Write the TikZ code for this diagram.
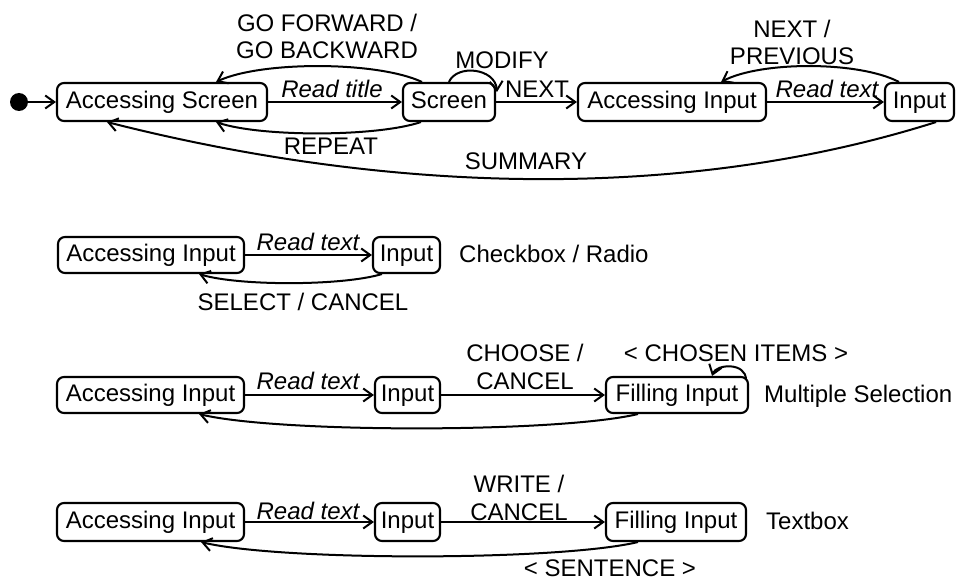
\documentclass[tikz,border=0pt]{standalone}
\usepackage{fontspec}
\setmainfont{Liberation Sans}
\usetikzlibrary{arrows.meta,calc}

\begin{document}
\begin{tikzpicture}[x=1pt,y=-1pt,
  every node/.style={font=\fontsize{24}{27.5}\selectfont},
  state/.style={draw, line width=2.1pt, rounded corners=7pt, minimum height=38pt,
                inner xsep=0pt, text height=17.5pt, text depth=5pt},
  trans/.style={line width=2pt, -{Straight Barb[length=9pt,width=13pt]}},
  lbl/.style={anchor=base, inner sep=0pt, align=center},
  note/.style={anchor=base west, inner sep=0pt}]

\useasboundingbox (0,0) rectangle (956,580);

% ---------- general screen / input navigation ----------
\node[circle, fill, inner sep=0pt, minimum size=18pt] (init) at (19,102) {};
\node[state, minimum width=210pt] (as)  at (162,102)   {Accessing Screen};
\node[state, minimum width=92pt]  (scr) at (449,102)   {Screen};
\node[state, minimum width=188pt] (ai)  at (672,102)   {Accessing Input};
\node[state, minimum width=69pt]  (in)  at (919.5,102) {Input};

\draw[trans] (init) -- (as);
\draw[trans] (as) -- (scr);
\draw[trans] (scr) -- (ai);
\draw[trans] (ai) -- (in);
\draw[trans] ($(scr.north west)+(20,0)$) .. controls +(-45,-21) and +(45,-21) .. ($(as.north east)+(-52,0)$);
\draw[trans] ($(scr.south west)+(19,0)$) .. controls +(-45,15) and +(45,15) .. ($(as.south east)+(-52,0)$);
\draw[trans] ($(scr.north west)+(47,0)$) .. controls +(8,-18) and +(-2,-24) .. ($(scr.north east)+(1,10)$);
\draw[trans] ($(in.north west)+(15,0)$) .. controls +(-40,-21) and +(40,-21) .. ($(ai.north east)+(-46,0)$);
\draw[trans] ($(in.south east)+(-19,0)$) .. controls +(-240,76) and +(300,76) .. ($(as.south west)+(51,0)$);

% two-line labels: the base anchor sits on the last line
\node[lbl] (lgo)   at (327,59)  {GO FORWARD /\\GO BACKWARD};
\node[lbl] (lrt)   at (332,98)  {\itshape Read title};
\node[lbl] (lrep)  at (331,155) {REPEAT};
\node[lbl] (lmod)  at (502,69)  {MODIFY};
\node[lbl] (lnext) at (537,98)  {NEXT};
\node[lbl] (lrtx)  at (827,98)  {\itshape Read text};
\node[lbl] (lnp)   at (792,65)  {NEXT /\\PREVIOUS};
\node[lbl] (lsum)  at (526,170) {SUMMARY};

% ---------- checkbox / radio ----------
\node[state, minimum width=186pt, minimum height=36pt] (ai2) at (151,255)   {Accessing Input};
\node[state, minimum width=67pt,  minimum height=36pt] (in2) at (406.5,255) {Input};

\draw[trans] (ai2) -- (in2);
\draw[trans] ($(in2.south west)+(10,0)$) .. controls +(-40,12) and +(40,12) .. ($(ai2.south east)+(-46,0)$);

\node[lbl]  (lrt2) at (308,251) {\itshape Read text};
\node[lbl]  (lsel) at (303,310) {SELECT / CANCEL};
\node[note] (ncb)  at (459,262) {Checkbox / Radio};

% ---------- multiple selection ----------
\node[state, minimum width=187pt, minimum height=36pt] (ai3) at (150.5,395) {Accessing Input};
\node[state, minimum width=65pt,  minimum height=36pt] (in3) at (407.5,395) {Input};
\node[state, minimum width=142pt, minimum height=36pt] (fi3) at (677,395)   {Filling Input};

\draw[trans] (ai3) -- (in3);
\draw[trans] (in3) -- (fi3);
\draw[trans] ($(fi3.south west)+(33,0)$) .. controls +(-80,19) and +(80,19) .. ($(ai3.south east)+(-46,0)$);
\draw[trans] ($(fi3.north east)+(-3,4)$) .. controls +(0,-18) and +(4,-12) .. ($(fi3.north east)+(-37,0)$);

\node[lbl]  (lrt3) at (308,389) {\itshape Read text};
\node[lbl]  (lch)  at (525,389) {CHOOSE /\\CANCEL};
\node[lbl]  (lci)  at (736,361) {< CHOSEN ITEMS >};
\node[note] (nms)  at (764,402) {Multiple Selection};

% ---------- textbox ----------
\node[state, minimum width=187pt] (ai4) at (150.5,522) {Accessing Input};
\node[state, minimum width=65pt]  (in4) at (407.5,522) {Input};
\node[state, minimum width=140pt] (fi4) at (676,522)   {Filling Input};

\draw[trans] (ai4) -- (in4);
\draw[trans] (in4) -- (fi4);
\draw[trans] ($(fi4.south west)+(33,0)$) .. controls +(-80,19) and +(80,19) .. ($(ai4.south east)+(-44,0)$);

\node[lbl]  (lrt4) at (308,519) {\itshape Read text};
\node[lbl]  (lwr)  at (519,520) {WRITE /\\CANCEL};
\node[lbl]  (lsen) at (610,576) {< SENTENCE >};
\node[note] (ntb)  at (766,529) {Textbox};

\end{tikzpicture}
\end{document}
